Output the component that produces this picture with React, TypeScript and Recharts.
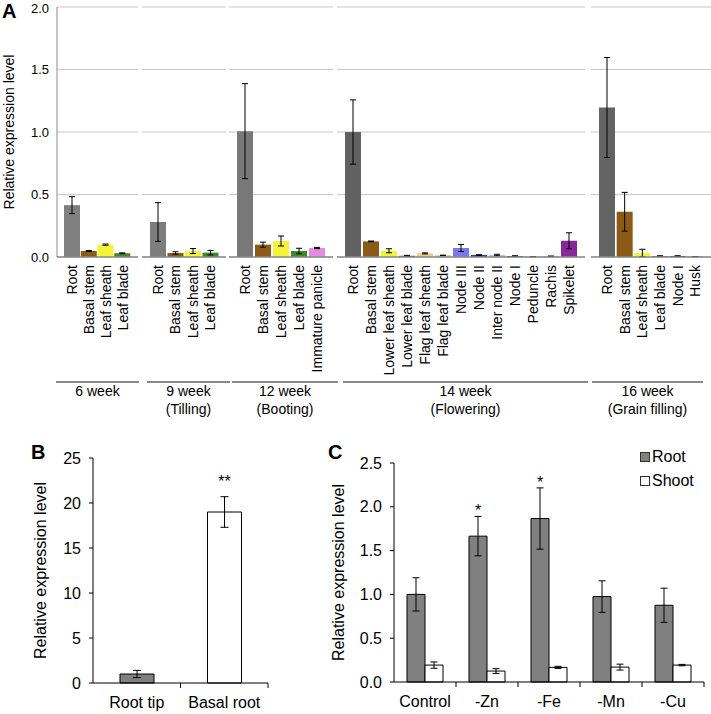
import React from 'react';
import {
  BarChart,
  Bar,
  XAxis,
  YAxis,
  CartesianGrid,
  ErrorBar,
  Cell,
  Legend,
  LabelList,
} from 'recharts';

// ---- Panel A: tissues by developmental stage ----
const week6Tissues = ['Root', 'Basal stem', 'Leaf sheath', 'Leaf blade'];
const week6Values = [0.415, 0.048, 0.099, 0.03];
const week6Errors = [0.068, 0.004, 0.005, 0.003];

const week9Tissues = ['Root', 'Basal stem', 'Leaf sheath', 'Leaf blade'];
const week9Values = [0.28, 0.032, 0.048, 0.035];
const week9Errors = [0.155, 0.01, 0.02, 0.018];

const week12Tissues = ['Root', 'Basal stem', 'Leaf sheath', 'Leaf blade', 'Immature panicle'];
const week12Values = [1.007, 0.099, 0.128, 0.048, 0.072];
const week12Errors = [0.38, 0.02, 0.04, 0.022, 0.005];

const week14Tissues = [
  'Root', 'Basal stem', 'Lower leaf sheath', 'Lower leaf blade', 'Flag leaf sheath', 'Flag leaf blade',
  'Node III', 'Node II', 'Inter node II', 'Node I', 'Peduncle', 'Rachis', 'Spikelet',
];
const week14Values = [1.0, 0.125, 0.05, 0.01, 0.029, 0.013, 0.072, 0.016, 0.016, 0.008, 0.003, 0.006, 0.13];
const week14Errors = [0.257, 0.003, 0.016, 0.003, 0.004, 0.002, 0.028, 0.003, 0.006, 0.002, 0.001, 0.002, 0.064];

const week16Tissues = ['Root', 'Basal stem', 'Leaf sheath', 'Leaf blade', 'Node I', 'Husk'];
const week16Values = [1.196, 0.362, 0.032, 0.008, 0.008, 0.003];
const week16Errors = [0.4, 0.155, 0.03, 0.002, 0.002, 0.001];

const stageNames = ['6 week', '9 week', '12 week', '14 week', '16 week'];
const stagePhases = ['', '(Tilling)', '(Booting)', '(Flowering)', '(Grain filling)'];

// ---- Panel B: root tip vs basal root ----
const rootParts = ['Root tip', 'Basal root'];
const rootPartValues = [1.0, 19.0];
const rootPartErrors = [0.4, 1.7];
const rootPartSig = ['', '**'];

// ---- Panel C: metal deficiency ----
const treatments = ['Control', '-Zn', '-Fe', '-Mn', '-Cu'];
const rootValues = [1.0, 1.665, 1.866, 0.975, 0.876];
const rootErrors = [0.19, 0.225, 0.35, 0.18, 0.195];
const shootValues = [0.193, 0.125, 0.167, 0.17, 0.193];
const shootErrors = [0.036, 0.027, 0.012, 0.034, 0.008];
const treatmentSig = ['', '*', '*', '', ''];

const tissueColors: Record<string, string> = {
  'Basal stem': '#8a5a16',
  'Leaf sheath': '#f5f23a',
  'Leaf blade': '#3f8a24',
  'Immature panicle': '#e58de0',
  'Lower leaf sheath': '#f5f23a',
  'Lower leaf blade': '#3a7a25',
  'Flag leaf sheath': '#edc98a',
  'Flag leaf blade': '#8ee26e',
  'Node III': '#7878f0',
  'Node II': '#2f3fb8',
  'Inter node II': '#9fcdea',
  'Node I': '#26327f',
  Peduncle: '#c77ad0',
  Rachis: '#df8ee0',
  Spikelet: '#87279a',
  Husk: '#505050',
};
const rootShades = ['#808080', '#7d7d7d', '#787878', '#616161', '#636363'];

const stageLayout = [
  { left: 57, width: 81, line: [56, 139] },
  { left: 142, width: 84, line: [147, 230] },
  { left: 229, width: 104, line: [232, 338] },
  { left: 337, width: 248, line: [343, 588] },
  { left: 591, width: 120, line: [592, 703] },
];

const GRID = '#c8c8c8';
const AXIS_GRAY = '#8a8a8a';
const FONT = "'Liberation Sans', Arial, sans-serif";
const CAT_MARGIN = 14;

// vertical tissue label, text ends at the axis
const RotatedTick = ({ x, y, payload }: any) => (
  <text
    x={x}
    y={y}
    transform={`rotate(-90, ${x}, ${y})`}
    textAnchor="end"
    dominantBaseline="central"
    fontSize={14}
    fill="#000"
  >
    {payload.value}
  </text>
);

// category label plus a tick mark on the boundary to the right of the band (Excel style)
const BoundaryTick = ({ x, y, payload }: any) => {
  const axisY = y - CAT_MARGIN;
  const edge = x + (payload.offset || 0);
  return (
    <g>
      <line x1={edge} y1={axisY} x2={edge} y2={axisY + 5} stroke="#000" />
      <text x={x} y={axisY + 25} textAnchor="middle" fontSize={16} fill="#000">
        {payload.value}
      </text>
    </g>
  );
};

const StageChart = ({ tissues, values, errors, rootColor, left, width, withAxis }: any) => {
  const rows = tissues.map((tissue: string, i: number) => ({ tissue, value: values[i], err: errors[i] }));
  const axisW = withAxis ? 57 : 0;
  return (
    <div style={{ position: 'absolute', left: left - axisW, top: 0 }}>
      <BarChart width={width + axisW} height={380} data={rows} margin={{ top: 7, right: 0, bottom: 0, left: 0 }}>
        <CartesianGrid vertical={false} stroke={GRID} />
        <XAxis
          dataKey="tissue"
          interval={0}
          height={123}
          padding={{ left: 7, right: 7 }}
          axisLine={{ stroke: AXIS_GRAY, strokeWidth: 1.5 }}
          tickLine={false}
          tick={<RotatedTick />}
        />
        <YAxis
          hide={!withAxis}
          width={57}
          domain={[0, 2]}
          ticks={[0, 0.5, 1, 1.5, 2]}
          tickFormatter={(v: number) => v.toFixed(1)}
          axisLine={{ stroke: AXIS_GRAY }}
          tickLine={false}
          tick={{ fontSize: 13, fill: '#000' }}
          label={{
            value: 'Relative expression level',
            angle: -90,
            position: 'insideLeft',
            offset: 9,
            textAnchor: 'middle',
            fontSize: 14,
            fill: '#000',
          } as any}
        />
        <Bar dataKey="value" barSize={16} isAnimationActive={false}>
          {rows.map((r: any, i: number) => (
            <Cell key={`c-${i}`} fill={r.tissue === 'Root' ? rootColor : tissueColors[r.tissue]} />
          ))}
          <ErrorBar dataKey="err" width={3} stroke="#000" strokeWidth={1} />
        </Bar>
      </BarChart>
    </div>
  );
};

const sigLabel = (values: number[], errors: number[], gap: number) => (props: any) => {
  const { index, value } = props;
  if (!value) return null;
  const x = Number(props.x);
  const y = Number(props.y);
  const w = Number(props.width);
  const h = Number(props.height);
  const top = y - (errors[index] * h) / values[index];
  return (
    <text x={x + w / 2} y={top - gap} textAnchor="middle" fontSize={16} fill="#000">
      {value}
    </text>
  );
};

const renderLegend = ({ payload }: any) => (
  <div style={{ fontSize: 16, fontFamily: FONT }}>
    {(payload || []).map((e: any) => (
      <div key={e.value} style={{ display: 'flex', alignItems: 'center', height: 24 }}>
        <svg width={10} height={10} style={{ marginRight: 2 }}>
          <rect x={0.5} y={0.5} width={9} height={9} fill={e.color} stroke="#333" />
        </svg>
        <span>{e.value}</span>
      </div>
    ))}
  </div>
);

const App = () => {
  const stages = [
    [week6Tissues, week6Values, week6Errors],
    [week9Tissues, week9Values, week9Errors],
    [week12Tissues, week12Values, week12Errors],
    [week14Tissues, week14Values, week14Errors],
    [week16Tissues, week16Values, week16Errors],
  ];

  const rowsB = rootParts.map((name, i) => ({ name, value: rootPartValues[i], err: rootPartErrors[i], sig: rootPartSig[i] }));
  const rowsC = treatments.map((name, i) => ({
    name,
    root: rootValues[i],
    rootErr: rootErrors[i],
    shoot: shootValues[i],
    shootErr: shootErrors[i],
    sig: treatmentSig[i],
  }));

  const panelLetter = { position: 'absolute' as const, fontWeight: 'bold' as const, fontSize: 20, lineHeight: '20px' };

  return (
    <div style={{ position: 'absolute', left: 0, top: 0, width: 711, height: 714, background: '#fff', fontFamily: FONT, overflow: 'hidden' }}>
      {/* Panel A */}
      <div style={{ ...panelLetter, left: 2, top: 1 }}>A</div>
      {stages.map(([t, v, e], i) => (
        <StageChart
          key={stageNames[i]}
          tissues={t}
          values={v}
          errors={e}
          rootColor={rootShades[i]}
          left={stageLayout[i].left}
          width={stageLayout[i].width}
          withAxis={i === 0}
        />
      ))}
      {stageLayout.map((g, i) => (
        <div key={`wk-${i}`}>
          <div style={{ position: 'absolute', left: g.line[0], top: 381, width: g.line[1] - g.line[0], borderTop: `2px solid ${AXIS_GRAY}` }} />
          <div style={{ position: 'absolute', left: g.line[0], top: 382, width: g.line[1] - g.line[0], textAlign: 'center', fontSize: 14, lineHeight: '18px' }}>
            <div>{stageNames[i]}</div>
            {stagePhases[i] && <div>{stagePhases[i]}</div>}
          </div>
        </div>
      ))}

      {/* Panel B */}
      <div style={{ ...panelLetter, left: 31, top: 442 }}>B</div>
      <div style={{ position: 'absolute', left: 0, top: 440 }}>
        <BarChart width={280} height={274} data={rowsB} margin={{ top: 18, right: 12, bottom: 0, left: 0 }}>
          <XAxis
            dataKey="name"
            height={31}
            interval={0}
            axisLine={{ stroke: '#000' }}
            tickLine={false}
            tickSize={0}
            tickMargin={CAT_MARGIN}
            tick={<BoundaryTick />}
          />
          <YAxis
            width={93}
            domain={[0, 25]}
            ticks={[0, 5, 10, 15, 20, 25]}
            tickSize={4}
            tickMargin={8}
            axisLine={{ stroke: '#000' }}
            tickLine={{ stroke: '#000' }}
            tick={{ fontSize: 16, fill: '#000' }}
            label={{ value: 'Relative expression level', angle: -90, position: 'insideLeft', offset: 40, textAnchor: 'middle', fontSize: 16, fill: '#000' } as any}
          />
          <Bar dataKey="value" barSize={34} stroke="#000" strokeWidth={1} isAnimationActive={false}>
            {rowsB.map((r, i) => (
              <Cell key={`b-${i}`} fill={i === 0 ? '#808080' : '#fff'} />
            ))}
            <ErrorBar dataKey="err" width={4} stroke="#000" strokeWidth={1} />
            <LabelList dataKey="sig" content={sigLabel(rootPartValues, rootPartErrors, 10)} />
          </Bar>
        </BarChart>
      </div>

      {/* Panel C */}
      <div style={{ ...panelLetter, left: 328, top: 442 }}>C</div>
      <div style={{ position: 'absolute', left: 300, top: 440 }}>
        <BarChart width={411} height={274} data={rowsC} margin={{ top: 23, right: 7, bottom: 1, left: 0 }} barGap={0}>
          <XAxis
            dataKey="name"
            height={31}
            interval={0}
            axisLine={{ stroke: '#000' }}
            tickLine={false}
            tickSize={0}
            tickMargin={CAT_MARGIN}
            tick={<BoundaryTick />}
          />
          <YAxis
            width={94}
            domain={[0, 2.5]}
            ticks={[0, 0.5, 1, 1.5, 2, 2.5]}
            tickFormatter={(v: number) => v.toFixed(1)}
            tickSize={4}
            tickMargin={8}
            axisLine={{ stroke: '#000' }}
            tickLine={{ stroke: '#000' }}
            tick={{ fontSize: 16, fill: '#000' }}
            label={{ value: 'Relative expression level', angle: -90, position: 'insideLeft', offset: 38, textAnchor: 'middle', fontSize: 16, fill: '#000' } as any}
          />
          <Legend
            layout="vertical"
            align="center"
            verticalAlign="middle"
            wrapperStyle={{ left: 340, top: 5, width: 70 }}
            content={renderLegend}
          />
          <Bar name="Root" dataKey="root" fill="#808080" barSize={18} stroke="#000" strokeWidth={1} isAnimationActive={false}>
            <ErrorBar dataKey="rootErr" width={3.5} stroke="#000" strokeWidth={1} />
            <LabelList dataKey="sig" content={sigLabel(rootValues, rootErrors, 0)} />
          </Bar>
          <Bar name="Shoot" dataKey="shoot" fill="#fff" barSize={18} stroke="#000" strokeWidth={1} isAnimationActive={false}>
            <ErrorBar dataKey="shootErr" width={3.5} stroke="#000" strokeWidth={1} />
          </Bar>
        </BarChart>
      </div>
    </div>
  );
};

export default App;
